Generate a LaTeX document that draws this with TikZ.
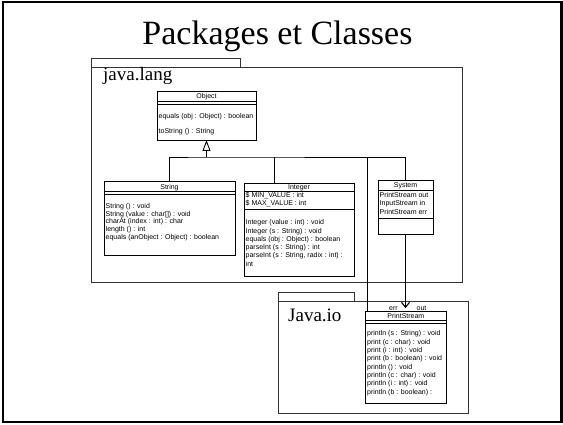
\documentclass[tikz,border=0pt]{standalone}
\usepackage{fontspec}
\setmainfont{Liberation Serif}
\setsansfont{Liberation Sans}
\usetikzlibrary{arrows.meta}

\begin{document}
\begin{tikzpicture}[x=1pt,y=-1pt,
  frame/.style={draw=black, line width=2.5pt},
  pkg/.style={draw=black!80, line width=0.9pt, inner sep=0, outer sep=0, anchor=north west},
  pkglabel/.style={font=\fontsize{19}{19}\selectfont, anchor=base west, inner sep=0},
  cls/.style={draw=black, line width=0.9pt, fill=white, inner sep=0, outer sep=0, anchor=north west},
  sep/.style={draw=black, line width=0.8pt},
  member/.style={font=\sffamily\fontsize{7}{7}\selectfont, anchor=west, inner sep=0, text height=6pt, text depth=1pt},
  clsname/.style={member, anchor=center},
  link/.style={draw=black, line width=0.9pt},
]
\useasboundingbox (0,0) rectangle (563,425);
\draw[frame] (3,2) rectangle (561.5,422);

\node[font=\fontsize{34}{34}\selectfont, anchor=base, inner sep=0] (title) at (277.5,45) {Packages et Classes};

% packages
\node[pkg, minimum width=149pt, minimum height=9.4pt] (langtab) at (91,58.3) {};
\node[pkg, minimum width=371.7pt, minimum height=214.6pt] (lang) at (91,67.7) {};
\node[pkglabel] (langname) at (103,81) {java.lang};

\node[pkg, minimum width=76pt, minimum height=9.4pt] (iotab) at (278,292.3) {};
\node[pkg, minimum width=190pt, minimum height=112pt] (io) at (278,301.7) {};
\node[pkglabel] (ioname) at (288,321.7) {Java.io};

% classes
\node[cls, minimum width=99pt, minimum height=49pt] (object) at (157,91) {};
\node[cls, minimum width=131pt, minimum height=74pt] (string) at (104,181) {};
\node[cls, minimum width=110pt, minimum height=93pt] (integer) at (244,183) {};
\node[cls, minimum width=55pt, minimum height=53.5pt] (system) at (378,180.5) {};
\node[cls, minimum width=80.3pt, minimum height=91.7pt] (ps) at (365.7,311.7) {};

% inheritance tree
\coordinate (hub) at (206.5,157);
\coordinate (introot) at ([xshift=30pt]integer.north west);
\coordinate (psroot) at ([xshift=1.5pt]ps.north west);
\draw[link] (string.north) |- (hub) -| (system.north);
\draw[link] (introot) -- (introot |- hub);
\draw[link] (psroot) -- (psroot |- hub);
\draw[link, -{Triangle[open, length=11pt, width=8pt, line width=0.9pt]}] (hub) -- (object.south);

% association System -> PrintStream
\draw[link, line width=1.1pt, -{Straight Barb[length=5pt, width=8pt]}, shorten >=3.5pt]
  (system.south) -- (system.south |- ps.north);
\node[clsname] (err) at (393.5,308) {err};
\node[clsname] (out) at (421.5,308) {out};

% Object
\node[clsname] (object-name) at (206.5,96.5) {Object};
\draw[sep] (object.west |- 0,101.5) -- (object.east |- 0,101.5);
\draw[sep] (object.west |- 0,104.5) -- (object.east |- 0,104.5);
\node[member] (object-op1) at (158.5,116) {equals (obj : Object) : boolean};
\node[member] (object-op2) at (158.5,131) {toString () : String};

% String
\node[clsname] (string-name) at (169.5,187) {String};
\draw[sep] (string.west |- 0,191.7) -- (string.east |- 0,191.7);
\draw[sep] (string.west |- 0,194.5) -- (string.east |- 0,194.5);
\node[member] (string-op1) at (105.5,206) {String () : void};
\node[member] (string-op2) at (105.5,213.7) {String (value : char[]) : void};
\node[member] (string-op3) at (105.5,221.4) {charAt (index : int) : char};
\node[member] (string-op4) at (105.5,229.1) {length () : int};
\node[member] (string-op5) at (105.5,236.8) {equals (anObject : Object) : boolean};

% Integer
\node[clsname] (integer-name) at (299,187) {Integer};
\draw[sep] (integer.west |- 0,191) -- (integer.east |- 0,191);
\node[member] (integer-at1) at (245.5,195.5) {\$ MIN\_VALUE : int};
\node[member] (integer-at2) at (245.5,203.5) {\$ MAX\_VALUE : int};
\draw[sep] (integer.west |- 0,209.3) -- (integer.east |- 0,209.3);
\node[member] (integer-op1) at (245.5,222.3) {Integer (value : int) : void};
\node[member] (integer-op2) at (245.5,230.6) {Integer (s : String) : void};
\node[member] (integer-op3) at (245.5,238.9) {equals (obj : Object) : boolean};
\node[member] (integer-op4) at (245.5,247.2) {parseInt (s : String) : int};
\node[member] (integer-op5) at (245.5,255.5) {parseInt (s : String, radix : int) :};
\node[member] (integer-op6) at (245.5,263.8) {int};

% System
\node[clsname] (system-name) at (405.5,185) {System};
\draw[sep] (system.west |- 0,190) -- (system.east |- 0,190);
\node[member] (system-at1) at (379.5,194.8) {PrintStream out};
\node[member] (system-at2) at (379.5,203.2) {InputStream in};
\node[member] (system-at3) at (379.5,211.6) {PrintStream err};
\draw[sep] (system.west |- 0,218.3) -- (system.east |- 0,218.3);

% PrintStream
\node[clsname] (ps-name) at (405.85,316.3) {PrintStream};
\draw[sep] (ps.west |- 0,320) -- (ps.east |- 0,320);
\draw[sep] (ps.west |- 0,323.3) -- (ps.east |- 0,323.3);
\node[member] (ps-op1) at (367,333.3) {println (s : String) : void};
\node[member] (ps-op2) at (367,341.7) {print (c : char) : void};
\node[member] (ps-op3) at (367,350) {print (i : int) : void};
\node[member] (ps-op4) at (367,358.4) {print (b : boolean) : void};
\node[member] (ps-op5) at (367,366.7) {println () : void};
\node[member] (ps-op6) at (367,375.1) {println (c : char) : void};
\node[member] (ps-op7) at (367,383.4) {println (i : int) : void};
\node[member] (ps-op8) at (367,391.8) {println (b : boolean) :};
\end{tikzpicture}
\end{document}
